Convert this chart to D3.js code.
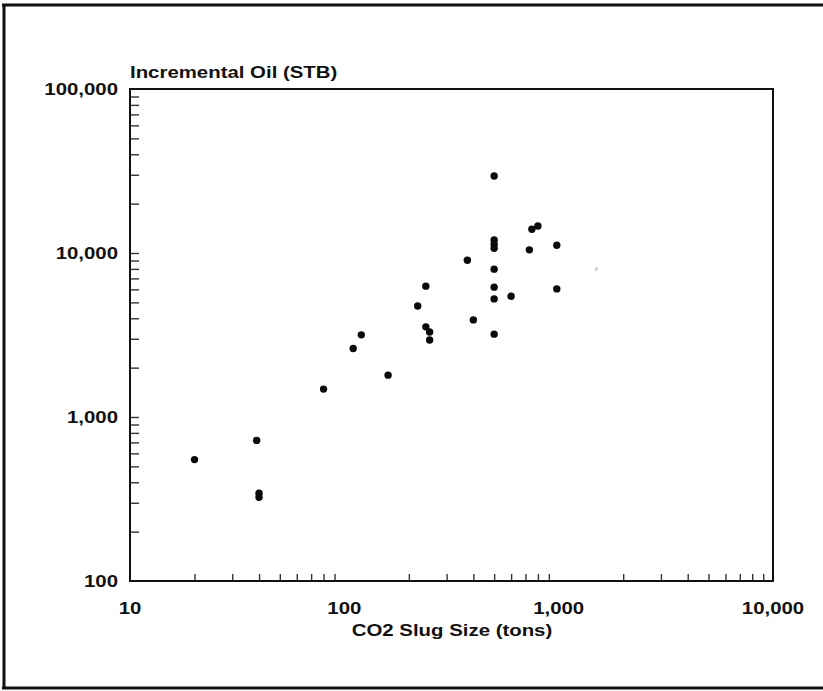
<!DOCTYPE html>
<html>
<head>
<meta charset="utf-8">
<script src="https://cdn.jsdelivr.net/npm/d3@7"></script>
<style>
  html, body { margin: 0; padding: 0; background: #fff; }
  svg { display: block; }
  text { font-family: "Liberation Sans", Arial, Helvetica, sans-serif; font-weight: bold; fill: #111; }
</style>
</head>
<body>
<svg id="chart" width="823" height="691"></svg>
<script>
// ---- data ----
const slugSize = [20, 39, 40, 40, 80, 110, 120, 160, 220, 240, 240, 250, 250, 375, 400,
                  500, 500, 500, 500, 500, 500, 500, 500, 600, 730, 750, 800, 980, 980];
const incrementalOil = [550, 720, 343, 324, 1480, 2615, 3170, 1800, 4750, 6280, 3545, 3300, 2950, 9040, 3910,
                        29500, 12000, 11300, 10700, 7970, 6190, 5250, 3200, 5450, 10450, 13950, 14600, 11150, 6040];
const faintSlug = [1500];
const faintOil = [8000];

const xTickValues = [10, 100, 1000, 10000];
const xTickLabels = ["10", "100", "1,000", "10,000"];
const yTickValues = [100, 1000, 10000, 100000];
const yTickLabels = ["100", "1,000", "10,000", "100,000"];
const xTitle = "CO2 Slug Size (tons)";
const yTitle = "Incremental Oil (STB)";

// ---- layout ----
const W = 823, H = 691;
const plot = { left: 130, right: 773, top: 89, bottom: 581 };
const svg = d3.select("#chart");

const x = d3.scaleLog().domain([10, 10000]).range([plot.left, plot.right]);
const y = d3.scaleLog().domain([100, 100000]).range([plot.bottom, plot.top]);

// outer border
const border = svg.append("g").attr("stroke", "#111").attr("fill", "none");
border.append("line").attr("x1", 2).attr("x2", W).attr("y1", 5).attr("y2", 5).attr("stroke-width", 3);
border.append("line").attr("x1", 4).attr("x2", 4).attr("y1", 4).attr("y2", 689).attr("stroke-width", 3);
border.append("line").attr("x1", 2).attr("x2", W).attr("y1", 688).attr("y2", 688).attr("stroke-width", 3);

// minor ticks (2..9 in each decade) drawn via axes, inward
const minorX = [];
for (let d = 10; d < 10000; d *= 10) for (let k = 2; k <= 9; k++) minorX.push(d * k);
const minorY = [];
for (let d = 100; d < 100000; d *= 10) for (let k = 2; k <= 9; k++) minorY.push(d * k);

const xAxis = d3.axisTop(x).tickValues(minorX).tickSize(7).tickFormat("");
const gx = svg.append("g").attr("transform", `translate(0,${plot.bottom})`).call(xAxis);
gx.select(".domain").remove();
gx.selectAll(".tick line").attr("stroke", "#333").attr("stroke-width", 1.4);

const yAxis = d3.axisRight(y).tickValues(minorY.concat([1000, 10000])).tickSize(9).tickFormat("");
const gy = svg.append("g").attr("transform", `translate(${plot.left},0)`).call(yAxis);
gy.select(".domain").remove();
gy.selectAll(".tick line").attr("stroke", "#333").attr("stroke-width", 1.4);

// frame
svg.append("rect")
  .attr("x", plot.left).attr("y", plot.top)
  .attr("width", plot.right - plot.left).attr("height", plot.bottom - plot.top)
  .attr("fill", "none").attr("stroke", "#111").attr("stroke-width", 2);

// text helper (the original lettering is wide, so stretch horizontally)
function label(px, py, str, anchor) {
  svg.append("text")
    .attr("transform", `translate(${px},${py}) scale(1.2,1)`)
    .attr("text-anchor", anchor)
    .attr("font-size", 17)
    .text(str);
}

xTickValues.forEach((v, i) => label(x(v), 613.5, xTickLabels[i], "middle"));
yTickValues.forEach((v, i) => label(plot.left - 12, y(v) + 6.3, yTickLabels[i], "end"));
label(452, 636, xTitle, "middle");
label(plot.left, 78, yTitle, "start");

// points
svg.append("g").selectAll("circle.faint")
  .data(faintSlug.map((s, i) => [s, faintOil[i]]))
  .join("circle")
  .attr("cx", d => x(d[0])).attr("cy", d => y(d[1]))
  .attr("r", 1.6).attr("fill", "#c8c8c8");

svg.append("g").selectAll("circle.pt")
  .data(slugSize.map((s, i) => [s, incrementalOil[i]]))
  .join("circle")
  .attr("cx", d => x(d[0])).attr("cy", d => y(d[1]))
  .attr("r", 3.7).attr("fill", "#0a0a0a");
</script>
</body>
</html>
